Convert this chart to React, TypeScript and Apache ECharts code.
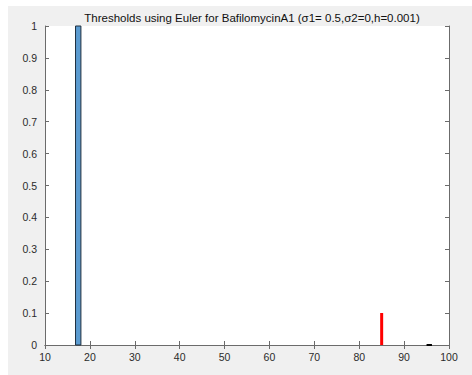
import React, { useEffect, useRef } from "react";
import * as echarts from "echarts";

// Histogram bin of the threshold counts (left edge, right edge, height)
const binEdges: number[] = [16.8, 18.0];
const binHeight: number[] = [1];
// Red marker line (x position, height)
const markerX: number[] = [85, 85];
const markerY: number[] = [0, 0.1];
// Short black segment on the baseline
const baseX: number[] = [95, 96.2];
const baseY: number[] = [0, 0];

const xTicks: number[] = [10, 20, 30, 40, 50, 60, 70, 80, 90, 100];
const yTicks: number[] = [0, 0.1, 0.2, 0.3, 0.4, 0.5, 0.6, 0.7, 0.8, 0.9, 1];

const titleText = "Thresholds using Euler for BafilomycinA1 (\u03c31= 0.5,\u03c32=0,h=0.001)";

const AXIS_COLOR = "#6b6b6b";
const TEXT_COLOR = "#2b2b2b";
const FONT = "'Liberation Sans', Arial, Helvetica, sans-serif";

export default function App() {
  const ref = useRef<HTMLDivElement>(null);

  useEffect(() => {
    if (!ref.current) return;
    const chart = echarts.init(ref.current, null, { renderer: "svg" });

    const baseAxis = {
      type: "value" as const,
      axisLine: { show: true, lineStyle: { color: AXIS_COLOR, width: 1 } },
      axisTick: { show: true, inside: true, length: 4, lineStyle: { color: AXIS_COLOR } },
      splitLine: { show: false },
    };

    chart.setOption({
      animation: false,
      backgroundColor: "transparent",
      graphic: [
        {
          type: "rect",
          z: -10,
          silent: true,
          shape: { x: 8, y: 6, width: 464, height: 369 },
          style: { fill: "#f0f0f0" },
        },
        {
          type: "rect",
          z: -5,
          silent: true,
          shape: { x: 45, y: 26, width: 404, height: 319 },
          style: { fill: "#ffffff" },
        },
      ],
      title: {
        text: titleText,
        left: 247,
        top: 7,
        textAlign: "center",
        textStyle: { fontFamily: FONT, fontSize: 11.5, fontWeight: "normal", color: "#111" },
      },
      grid: { left: 45, top: 26, width: 404, height: 319, containLabel: false },
      xAxis: [
        {
          ...baseAxis,
          position: "bottom",
          min: xTicks[0],
          max: xTicks[xTicks.length - 1],
          interval: 10,
          axisLabel: { color: TEXT_COLOR, fontFamily: FONT, fontSize: 10.5, margin: 6 },
        },
        {
          ...baseAxis,
          position: "top",
          min: xTicks[0],
          max: xTicks[xTicks.length - 1],
          interval: 10,
          axisLabel: { show: false },
        },
      ],
      yAxis: [
        {
          ...baseAxis,
          position: "left",
          min: yTicks[0],
          max: yTicks[yTicks.length - 1],
          interval: 0.1,
          axisLabel: {
            color: TEXT_COLOR,
            fontFamily: FONT,
            fontSize: 10.5,
            margin: 8,
            formatter: (v: number) => String(Math.round(v * 10) / 10),
          },
        },
        {
          ...baseAxis,
          position: "right",
          min: yTicks[0],
          max: yTicks[yTicks.length - 1],
          interval: 0.1,
          axisLabel: { show: false },
        },
      ],
      series: [
        {
          type: "custom",
          xAxisIndex: 0,
          yAxisIndex: 0,
          data: [[binEdges[0], binEdges[1], binHeight[0]]],
          renderItem: (_params: any, api: any) => {
            const p0 = api.coord([api.value(0), 0]);
            const p1 = api.coord([api.value(1), api.value(2)]);
            return {
              type: "rect",
              shape: { x: p0[0], y: p1[1], width: p1[0] - p0[0], height: p0[1] - p1[1] },
              style: { fill: "#5b9bd0", stroke: "#1f2f3f", lineWidth: 1 },
            };
          },
          z: 3,
        },
        {
          type: "line",
          data: markerX.map((x, i) => [x, markerY[i]]),
          symbol: "none",
          lineStyle: { color: "#ff0000", width: 3 },
          z: 4,
        },
        {
          type: "line",
          data: baseX.map((x, i) => [x, baseY[i]]),
          symbol: "none",
          lineStyle: { color: "#000000", width: 2 },
          z: 4,
        },
      ],
    });

    return () => chart.dispose();
  }, []);

  return (
    <div
      ref={ref}
      style={{ position: "absolute", left: 0, top: 0, width: 472, height: 375, background: "#ffffff" }}
    />
  );
}
